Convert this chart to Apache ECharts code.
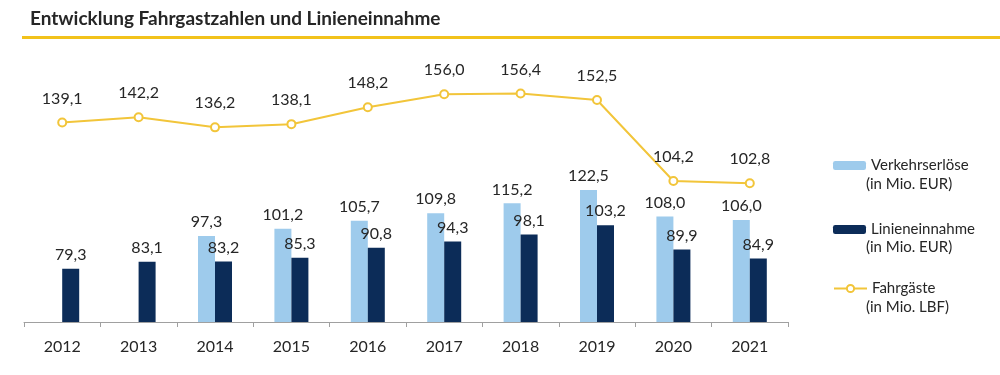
<!DOCTYPE html>
<html>
<head>
<meta charset="utf-8">
<script src="https://cdn.jsdelivr.net/npm/echarts@6/dist/echarts.min.js"></script>
<style>html,body{margin:0;padding:0;background:#fff;}#c{width:1000px;height:375px;}</style>
</head>
<body>
<div id="c"></div>
<script>
const years = ['2012','2013','2014','2015','2016','2017','2018','2019','2020','2021'];
const verkehrserloese = [null, null, 97.3, 101.2, 105.7, 109.8, 115.2, 122.5, 108.0, 106.0];
const linieneinnahme = [79.3, 83.1, 83.2, 85.3, 90.8, 94.3, 98.1, 103.2, 89.9, 84.9];
const fahrgaeste = [139.1, 142.2, 136.2, 138.1, 148.2, 156.0, 156.4, 152.5, 104.2, 102.8];
const titleText = 'Entwicklung Fahrgastzahlen und Linieneinnahme';
const unitEUR = '(in Mio. EUR)';
const unitLBF = '(in Mio. LBF)';

const FONT = 'Lato';
const TXT = '#262626';
const fmt = p => p.value == null ? '' : Number(p.value).toFixed(1).replace('.', ',');

const chart = echarts.init(document.getElementById('c'));
const legendBase = {
  orient: 'vertical', left: 828, itemWidth: 33, itemHeight: 9, itemGap: 0,
  textStyle: { fontFamily: FONT, fontSize: 15, color: TXT, padding: [0,0,0,0] },
  selectedMode: false
};
chart.setOption({
  animation: false,
  textStyle: { fontFamily: FONT },
  graphic: [
    { type: 'text', left: 30, top: 9, style: { text: titleText, font: 'bold 19px Lato', fill: TXT } },
    { type: 'rect', shape: { x: 22, y: 36, width: 978, height: 3 }, style: { fill: '#f2c21b' } },
    { type: 'text', left: 866, top: 177, style: { text: unitEUR, font: '15px Lato', fill: TXT } },
    { type: 'text', left: 866, top: 240, style: { text: unitEUR, font: '15px Lato', fill: TXT } },
    { type: 'text', left: 866, top: 300, style: { text: unitLBF, font: '15px Lato', fill: TXT } }
  ],
  legend: [
    Object.assign({}, legendBase, { top: 153, data: ['Verkehrserlöse'] }),
    Object.assign({}, legendBase, { top: 217, data: ['Linieneinnahme'] }),
    Object.assign({}, legendBase, { top: 276, data: ['Fahrgäste'] })
  ],
  grid: { left: 24, right: 212, top: 60, bottom: 53 },
  xAxis: {
    type: 'category', data: years,
    axisLine: { lineStyle: { color: '#a0a0a0', width: 1 } },
    axisTick: { show: true, length: 5, lineStyle: { color: '#a0a0a0' } },
    axisLabel: { fontFamily: FONT, fontSize: 16, color: TXT, margin: 17 }
  },
  yAxis: [
    { type: 'value', min: 50, max: 194, show: false, splitLine: { show: false } },
    { type: 'value', min: 20, max: 176.4, show: false, splitLine: { show: false } }
  ],
  series: [
    {
      name: 'Verkehrserlöse', type: 'bar', yAxisIndex: 0, data: verkehrserloese,
      barWidth: 17, barGap: '0%',
      itemStyle: { color: '#9ecbec' },
      label: { show: true, position: 'top', distance: 6, formatter: fmt, fontFamily: FONT, fontSize: 16, color: TXT }
    },
    {
      name: 'Linieneinnahme', type: 'bar', yAxisIndex: 0, data: linieneinnahme,
      barWidth: 17, barGap: '0%',
      itemStyle: { color: '#0c2c58' },
      label: { show: true, position: 'top', distance: 6, formatter: fmt, fontFamily: FONT, fontSize: 16, color: TXT }
    },
    {
      name: 'Fahrgäste', type: 'line', yAxisIndex: 1, data: fahrgaeste,
      symbol: 'circle', symbolSize: 8,
      lineStyle: { color: '#f2c53a', width: 2 },
      itemStyle: { color: '#fff', borderColor: '#f2c53a', borderWidth: 2 },
      label: { show: true, position: 'top', distance: 11, formatter: fmt, fontFamily: FONT, fontSize: 16, color: TXT },
      z: 5
    }
  ]
});
</script>
</body>
</html>
